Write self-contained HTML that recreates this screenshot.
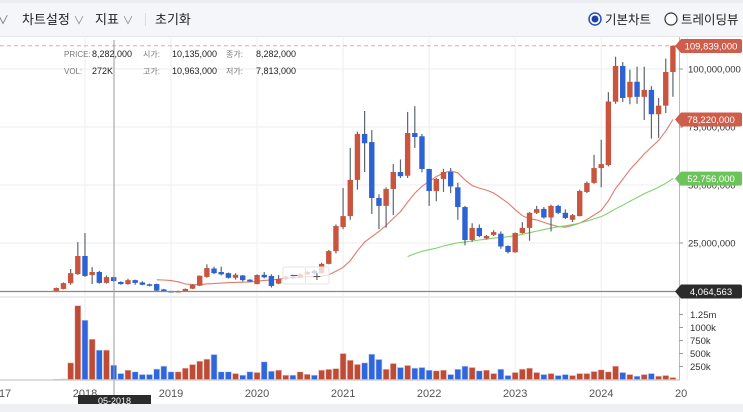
<!DOCTYPE html>
<html><head><meta charset="utf-8">
<style>
html,body{margin:0;padding:0;background:#fff;width:743px;height:412px;overflow:hidden}
svg{display:block;font-family:"Liberation Sans","Noto Sans CJK KR",sans-serif}
</style></head>
<body>
<svg id="chart" width="743" height="412" viewBox="0 0 743 412" xmlns="http://www.w3.org/2000/svg">
<defs>
<clipPath id="plotclip"><rect x="0" y="37" width="679" height="343"/></clipPath>
<clipPath id="xclip"><rect x="0" y="380" width="687" height="24"/></clipPath>
</defs>
<rect x="0" y="0" width="743" height="3" fill="#eceef2"/>
<rect x="0" y="3" width="743" height="34" fill="#f5f6fa"/>
<rect x="0" y="36" width="743" height="1" fill="#e4e6ea"/>
<text x="-3" y="24" font-size="12" fill="#777">∨</text>
<text x="22" y="24" font-size="13" fill="#222">차트설정 <tspan fill="#888" font-size="11">∨</tspan></text>
<text x="95" y="24" font-size="13" fill="#222">지표 <tspan fill="#888" font-size="11">∨</tspan></text>
<rect x="145" y="13" width="1" height="13" fill="#ddd"/>
<text x="155" y="24" font-size="13" fill="#222">초기화</text>
<circle cx="595" cy="19" r="6" fill="#fff" stroke="#2a4fb8" stroke-width="1.5"/>
<circle cx="595" cy="19" r="3.5" fill="#1c3fa8"/>
<text x="605" y="24" font-size="12.5" fill="#222">기본차트</text>
<circle cx="671" cy="19" r="6" fill="#fff" stroke="#333" stroke-width="1.2"/>
<text x="681" y="24" font-size="12.5" fill="#222">트레이딩뷰</text>
<g id="grid"></g>
<g id="plot" clip-path="url(#plotclip)"></g>
<g id="axes"></g>
<rect x="0" y="404" width="743" height="8" fill="#eef0f4"/>
</svg>
<script>
const closes=[5.6,7.7,12,19.4,10.8,12.5,7.8,10.3,8.6,7.3,9,7.8,7,6.6,4.5,4.2,4,4.3,5.2,7,10.9,14.2,12,11.5,10,11.3,9,8.4,11.2,10.2,6.5,9.5,10.5,10,11.5,12.5,12,16,21.5,32.3,36.6,52.2,72,68,44.4,41,48.3,55.6,53.8,72.4,70.7,56.9,47.4,52.6,55.6,49.4,40.5,26.3,31.5,28,28,29.7,23.5,21.1,29.3,31.5,38,39.6,36,41,38,35.8,37,47.4,50.9,57.3,59,86,101.3,87.5,94.5,88,91,80.5,84.2,98.7,110];
const opens=[4.3,5.2,7.7,11.6,19.4,11.2,12.5,7.8,10.3,8.2,7.3,9,8,7.2,7.3,5,4.3,4,4.3,5.3,6.6,10.4,14,12.5,12,10,11,9.2,7.3,11.3,10.8,7.5,9.5,10.5,10,11.5,13,12,16,21.5,31.9,36.6,52.2,72,68.5,44.4,41,48.3,55.6,54,72.4,71,56.9,47.4,52.6,55.6,49,40.5,26.3,31.5,27,28.5,29,23.7,21,29.3,31.5,38,39.7,36,41,38,35,36.6,47,50.9,57.3,58.6,85.9,101.3,87.8,94.5,88,91,80.5,84.2,98.7];
const highs=[5.8,8,13.8,25.4,29.3,14.6,13,11,10.5,8.5,9.6,9.2,8.5,7.5,7.5,5.2,4.4,4.5,5.4,7.3,11,15.8,14.8,14.8,12.3,12,11.2,9.4,11.5,12.5,11.5,11.2,11,11.5,12,13,13.5,16.5,22,33,48.7,66,73,81.9,73.7,46,49,59,61,81.5,84,72,57,53,57,57.3,51,41,33.5,33,28.5,30.5,30,24,29.5,34,38.3,41,40.5,41.5,41.5,39.5,37.5,48,51.5,63,69.5,90,105.3,103,99.7,101,101,92.6,87.5,104.5,110];
const lows=[4.2,5,7,11.2,10.3,7.3,7.5,7.5,8.2,7,7,7,6.8,6.3,4.2,4,3.8,3.8,4.2,5.1,6.4,10,11.6,11,9.6,9.2,8.4,8.2,7.2,9.8,5.8,7.2,9,9.5,9.8,11.2,11.5,11.8,15.8,20.5,31,35,48,55.6,37.5,31,31.6,37,53,53,66,55.5,41,43,47,46.5,35,24,25.5,27.5,26.5,28,22.5,20.5,20.8,29,26,37.5,35.5,30,37.5,35.3,34,36.5,46.5,50.5,49,58,85,85.8,84.8,85,78,70,70.3,81,88];
const volumes=[5,10,320,1420,1140,775,565,565,275,115,180,148,96,96,200,256,148,148,218,288,352,391,480,148,148,115,83,148,135,340,160,180,83,83,148,100,83,180,195,210,500,370,290,320,487,385,198,308,231,270,218,231,180,167,180,96,198,256,231,167,180,115,198,77,135,198,218,135,96,115,77,96,77,115,115,154,186,148,256,135,96,64,96,115,64,77,38];
const yearLabels=["2017","2018","2019","2020","2021","2022","2023","2024","2025"];
const yearMonthIndex=[-8,4,16,28,40,52,64,76,88];
const priceTicks=[25,50,75,100];
const priceTickLabels=["25,000,000","50,000,000","75,000,000","100,000,000"];
const volTicks=[250,500,750,1000,1250];
const volTickLabels=["250k","500k","750k","1000k","1.25m"];
const maShortWindow=15, maLongWindow=50;

const NS="http://www.w3.org/2000/svg";
const xOf=i=>56.3+7.17*i;
const yP=p=>301-2.32*p;
const yV=v=>379.5-0.052*v;
function mk(tag,attrs,parent,txt){const e=document.createElementNS(NS,tag);for(const k in attrs)e.setAttribute(k,attrs[k]);if(txt!==undefined)e.textContent=txt;parent.appendChild(e);return e;}
const grid=document.getElementById('grid'),plot=document.getElementById('plot'),axes=document.getElementById('axes');
const UP="#c9553f",DN="#2d62d3";

priceTicks.forEach((p,k)=>{const l=mk('line',{x1:0,x2:679,y1:yP(p),y2:yP(p),stroke:'#eeeeee'},grid);

});
yearMonthIndex.forEach(i=>{const l=mk('line',{x1:xOf(i),x2:xOf(i),y1:37,y2:380,stroke:'#eeeeee'},grid);

});

{const l=mk('line',{x1:0,x2:679,y1:yP(highs[highs.length-1]),y2:yP(highs[highs.length-1]),stroke:'#eaa79c','stroke-dasharray':'4,3'},plot);

}

volumes.forEach((v,i)=>{const up=closes[i]>=opens[i];
const r=mk('rect',{x:xOf(i)-3,y:yV(v),width:6,height:379.5-yV(v),fill:up?'#bd4b36':'#2f66dc',stroke:up?'#f0c8c0':'#c4d4f6','stroke-width':0.6},plot);

});

function sma(w){const out=[];for(let i=w-1;i<closes.length;i++){let s=0;for(let j=i-w+1;j<=i;j++)s+=closes[j];out.push([i,s/w]);}return out;}
function maPath(w,color,name){const pts=sma(w);const d=pts.map((p,k)=>(k?'L':'M')+xOf(p[0]).toFixed(1)+','+yP(p[1]).toFixed(1)).join(' ');
const el=mk('path',{d:d,fill:'none',stroke:color,'stroke-width':1.1},plot);


return pts[pts.length-1][1];}
const maS=maPath(maShortWindow,'#e27a6b','ma-short-line');
const maL=maPath(maLongWindow,'#7fd46c','ma-long-line');

closes.forEach((c,i)=>{const o=opens[i],up=c>=o,x=xOf(i);
const w=mk('line',{x1:x,x2:x,y1:yP(highs[i]),y2:yP(lows[i]),stroke:'#5d6670','stroke-width':1.2},plot);


const top=yP(Math.max(o,c)),h=Math.max(1.5,Math.abs(yP(o)-yP(c)));
const b=mk('rect',{x:x-2.7,y:top,width:5.4,height:h,fill:up?UP:DN},plot);

});

{const l=mk('line',{x1:0,x2:679,y1:291.5,y2:291.5,stroke:'#888','stroke-width':1.2},plot);

}
{const r=mk('rect',{x:0,y:296,width:679,height:2,fill:'#ececec'},axes);

}
{const l=mk('line',{x1:114,x2:114,y1:40,y2:396,stroke:'#9a9a9a','stroke-width':1},axes);

}
{const l=mk('line',{x1:679.5,x2:679.5,y1:37,y2:380,stroke:'#bbb'},axes);


const l2=mk('line',{x1:0,x2:680,y1:380,y2:380,stroke:'#bbb'},axes);

}

priceTicks.forEach((p,k)=>{const y=yP(p);
mk('line',{x1:679,x2:683,y1:y,y2:y,stroke:'#999'},axes);
const t=mk('text',{x:688,y:y+3.5,'font-size':9.5,fill:'#333'},axes,priceTickLabels[k]);

});
volTicks.forEach((v,k)=>{const y=yV(v);
mk('line',{x1:679,x2:683,y1:y,y2:y,stroke:'#999'},axes);
const t=mk('text',{x:690,y:y+3.5,'font-size':9.5,fill:'#333'},axes,volTickLabels[k]);

});

const xg=mk('g',{'clip-path':'url(#xclip)'},axes);
yearLabels.forEach((s,k)=>{const t=mk('text',{x:xOf(yearMonthIndex[k]),y:397,'font-size':11,fill:'#555','text-anchor':'middle'},xg,s);

});

function badge(y,txt,bg,name){const g=mk('g',{},axes);


mk('path',{d:`M675,${y} L681,${y-7} L740,${y-7} Q742,${y-7} 742,${y-5} L742,${y+5} Q742,${y+7} 740,${y+7} L681,${y+7} Z`,fill:bg},g);
mk('text',{x:711,y:y+3.5,'font-size':9.5,fill:'#fff','text-anchor':'middle'},g,txt);}
const fmt=v=>Math.round(v*1e6).toLocaleString('en-US');
badge(46,'109,839,000','#cf5d4b','last-high-badge');
badge(yP(maS),fmt(maS),'#cf5d4b','ma-short-badge');
badge(yP(maL),fmt(maL),'#6cc35a','ma-long-badge');
badge(291.5,'4,064,563','#2b2b2b','current-price-badge');

const info=[["PRICE:",64,57,'#777'],["8,282,000",92,57,'#222'],["시가:",143,57,'#777'],["10,135,000",172,57,'#222'],["종가:",226,57,'#777'],["8,282,000",256,57,'#222'],
["VOL:",64,74,'#777'],["272K",92,74,'#222'],["고가:",143,74,'#777'],["10,963,000",172,74,'#222'],["저가:",226,74,'#777'],["7,813,000",256,74,'#222']];
info.forEach(a=>{const t=mk('text',{x:a[1],y:a[2],'font-size':a[3]=='#777'?8:9,fill:a[3]},axes,a[0]);

});

{const g=mk('g',{},axes);


mk('rect',{x:283,y:267,width:46,height:17,rx:2,fill:'#ffffff','fill-opacity':0.75,stroke:'#e6e6e6'},g);
mk('line',{x1:305.5,x2:305.5,y1:268,y2:283,stroke:'#e6e6e6'},g);
mk('text',{x:294,y:280,'font-size':14,fill:'#555','text-anchor':'middle'},g,'−');
mk('text',{x:317,y:281,'font-size':14,fill:'#555','text-anchor':'middle'},g,'+');}

{const g=mk('g',{},axes);


mk('rect',{x:78,y:395,width:73,height:11,fill:'#2b2b2b'},g);
mk('text',{x:114.5,y:404,'font-size':9,fill:'#fff','text-anchor':'middle'},g,'05-2018');}
</script>
</body></html>
